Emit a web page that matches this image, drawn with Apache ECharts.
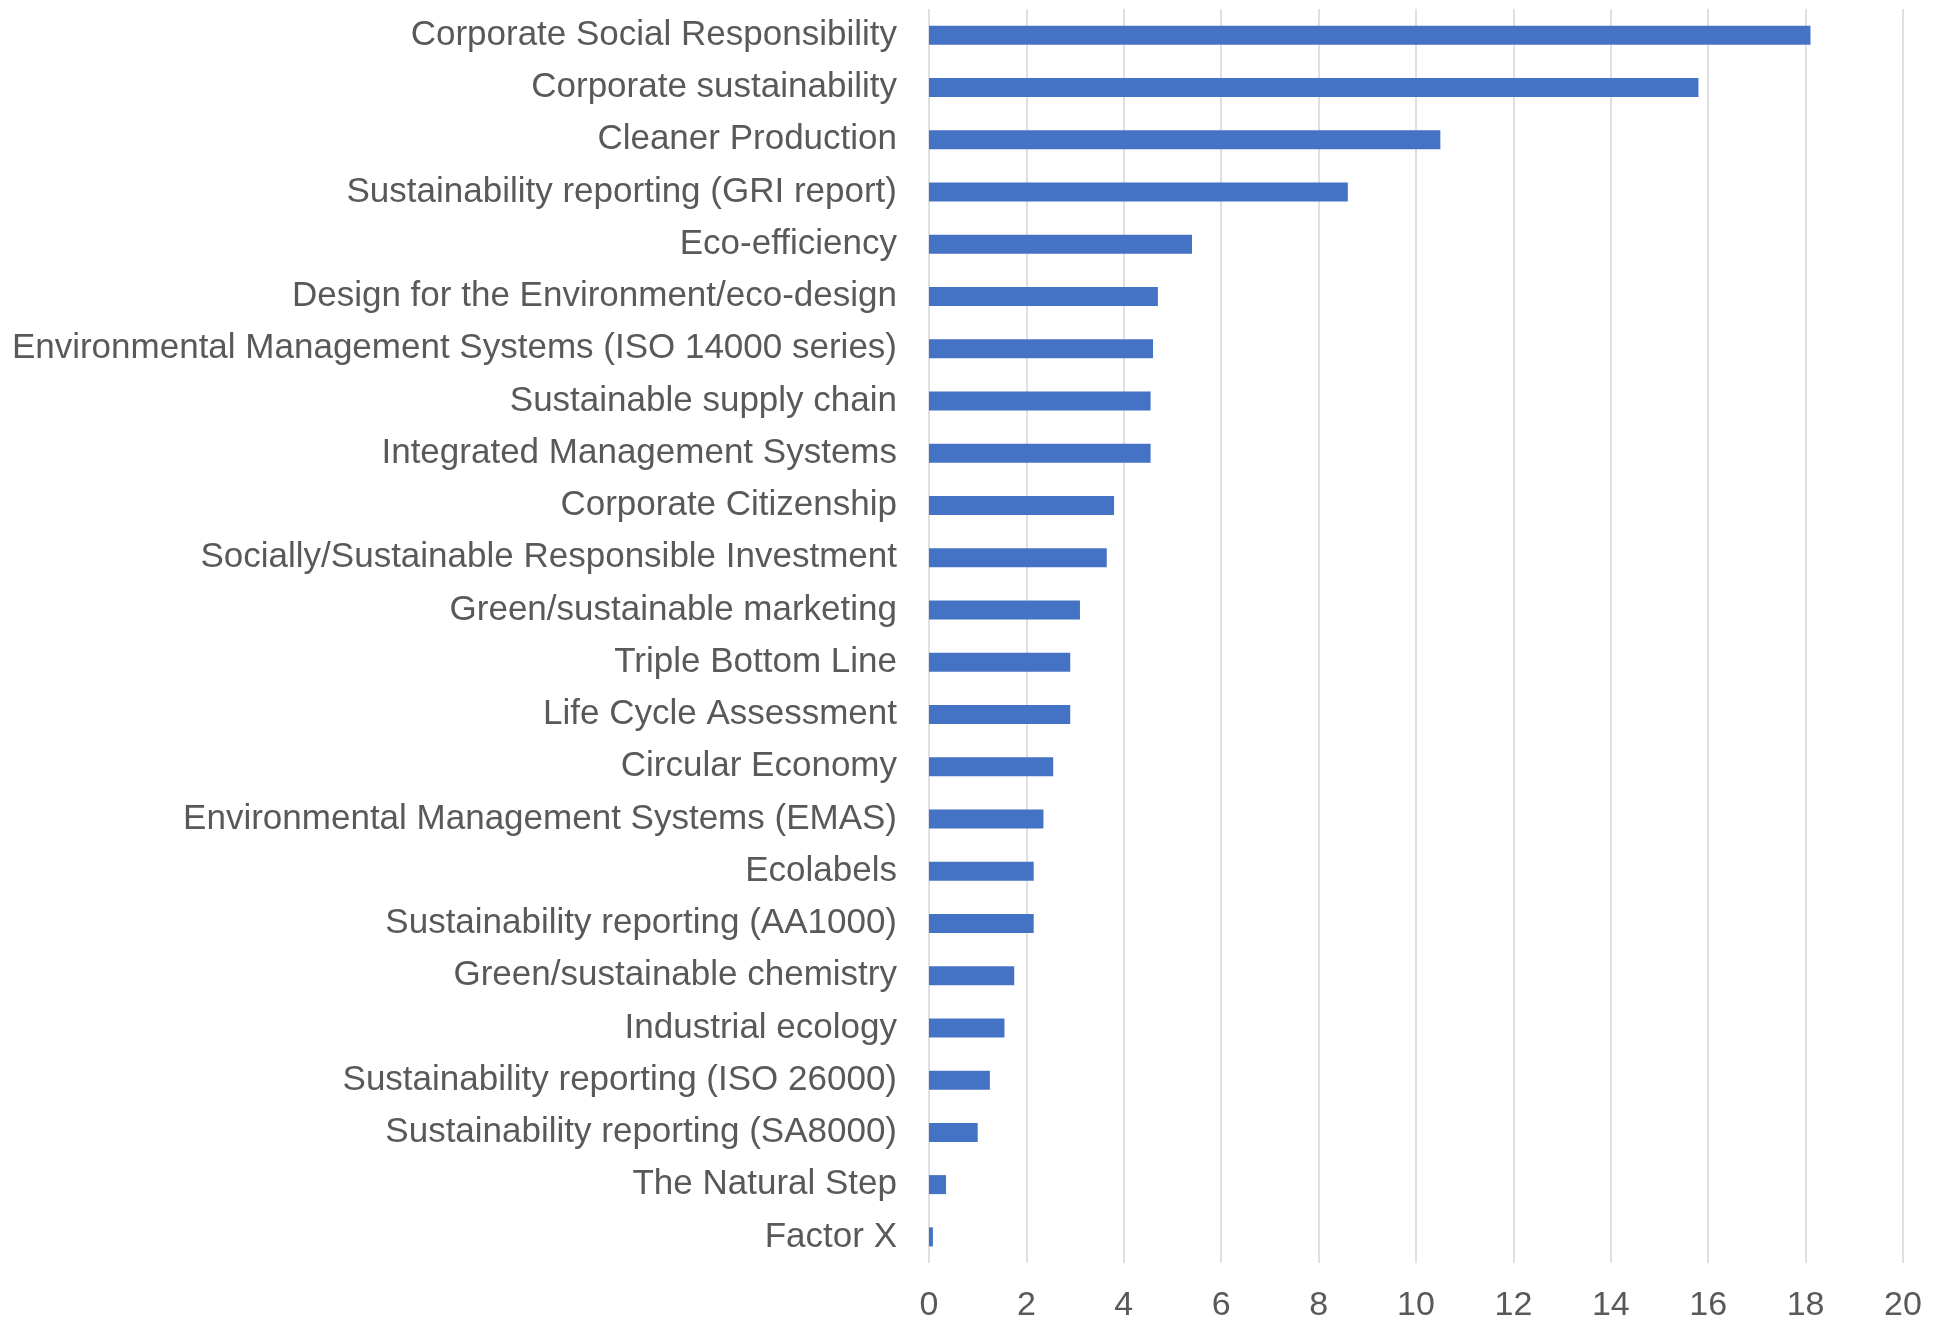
<!DOCTYPE html>
<html>
<head>
<meta charset="utf-8">
<script src="https://cdn.jsdelivr.net/npm/echarts@6/dist/echarts.min.js"></script>
<style>
  html, body { margin: 0; padding: 0; background: #ffffff; }
  #chart { width: 1934px; height: 1325px; }
</style>
</head>
<body>
<div id="chart"></div>
<script>
// Tools and approaches, listed from the most to the least frequent
const categories = [
  'Corporate Social Responsibility',
  'Corporate sustainability',
  'Cleaner Production',
  'Sustainability reporting (GRI report)',
  'Eco-efficiency',
  'Design for the Environment/eco-design',
  'Environmental Management Systems (ISO 14000 series)',
  'Sustainable supply chain',
  'Integrated Management Systems',
  'Corporate Citizenship',
  'Socially/Sustainable Responsible Investment',
  'Green/sustainable marketing',
  'Triple Bottom Line',
  'Life Cycle Assessment',
  'Circular Economy',
  'Environmental Management Systems (EMAS)',
  'Ecolabels',
  'Sustainability reporting (AA1000)',
  'Green/sustainable chemistry',
  'Industrial ecology',
  'Sustainability reporting (ISO 26000)',
  'Sustainability reporting (SA8000)',
  'The Natural Step',
  'Factor X'
];

const values = [
  18.1, 15.8, 10.5, 8.6, 5.4, 4.7, 4.6, 4.55, 4.55, 3.8, 3.65, 3.1,
  2.9, 2.9, 2.55, 2.35, 2.15, 2.15, 1.75, 1.55, 1.25, 1.0, 0.35, 0.08
];

const axisTicks = { min: 0, max: 20, step: 2 };

const textColor = '#595959';
const fontFamily = '"Liberation Sans", Arial, sans-serif';

const chart = echarts.init(document.getElementById('chart'), null, { renderer: 'canvas' });

chart.setOption({
  backgroundColor: '#ffffff',
  animation: false,
  grid: {
    left: 929,
    right: 31,
    top: 9,
    height: 1254,
    containLabel: false
  },
  xAxis: {
    type: 'value',
    min: axisTicks.min,
    max: axisTicks.max,
    interval: axisTicks.step,
    axisLine: { show: false },
    axisTick: { show: false },
    splitLine: { show: true, lineStyle: { color: '#d6d6d6', width: 1.5 } },
    axisLabel: {
      color: textColor,
      fontSize: 34,
      fontFamily: fontFamily,
      margin: 26
    }
  },
  yAxis: {
    type: 'category',
    data: categories,
    inverse: true,
    axisLine: { show: false },
    axisTick: { show: false },
    splitLine: { show: false },
    axisLabel: {
      color: textColor,
      fontSize: 35,
      fontFamily: fontFamily,
      margin: 32
    }
  },
  series: [{
    type: 'bar',
    data: values,
    barWidth: 19,
    itemStyle: { color: '#4472C4' }
  }]
});
</script>
</body>
</html>
